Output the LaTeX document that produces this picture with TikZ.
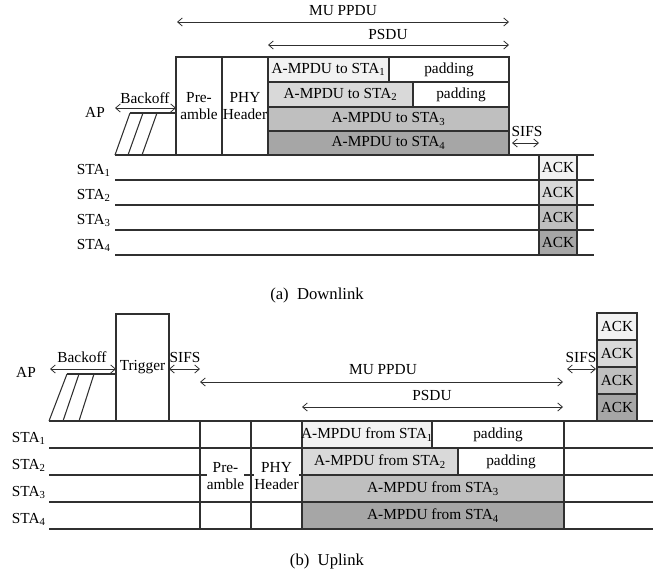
\documentclass[tikz,border=0pt]{standalone}
\usepackage{fontspec}
\setmainfont{Liberation Serif}
\usetikzlibrary{arrows.meta}
\definecolor{cA}{HTML}{F2F2F2}
\definecolor{cB}{HTML}{D9D9D9}
\definecolor{cC}{HTML}{BFBFBF}
\definecolor{cD}{HTML}{A6A6A6}
\definecolor{ln}{HTML}{303030}
\newcommand\mycell[7]{%
  \filldraw[cellst,fill=#6] (#2,#3) rectangle (#4,#5);
  \node[lbl] (#1) at ({(#2+#4)/2},{(#3+#5)/2}) {#7};}
\tikzset{
  cellst/.style={draw=ln, line width=0.8pt},
  tl/.style={draw=ln, line width=0.8pt},
  lbl/.style={font=\fontsize{11.5}{13}\selectfont, inner sep=0pt, align=center},
  stalbl/.style={font=\fontsize{11.5}{13}\selectfont, inner sep=0pt, anchor=base east},
  dimarr/.style={draw=ln, line width=0.6pt, {Straight Barb[length=3.5pt,width=6pt]}-{Straight Barb[length=3.5pt,width=6pt]}},
  captxt/.style={font=\fontsize{12.5}{14}\selectfont, inner sep=0pt}
}
\begin{document}
\begin{tikzpicture}[x=0.75pt,y=-0.75pt]
\useasboundingbox (0,0) rectangle (653,578);
% ================= (a) Downlink =================
\coordinate (muL) at (177,22); \coordinate (muR) at (509,22);
\draw[dimarr] (muL) -- (muR);
\node[lbl] (mulbl) at (343,11) {MU PPDU};
\coordinate (psL) at (268,45); \coordinate (psR) at (509,45);
\draw[dimarr] (psL) -- (psR);
\node[lbl] (pslbl) at (388,34) {PSDU};
\mycell{pre}{176}{57}{222}{155}{white}{Pre-\\amble}
\mycell{phy}{222}{57}{268}{155}{white}{PHY\\Header}
\mycell{d1}{268}{57}{389}{82}{cA}{A-MPDU to STA\textsubscript{1}}
\mycell{p1}{389}{57}{509}{82}{white}{padding}
\mycell{d2}{268}{82}{413}{107}{cB}{A-MPDU to STA\textsubscript{2}}
\mycell{p2}{413}{82}{509}{107}{white}{padding}
\mycell{d3}{268}{107}{509}{131}{cC}{A-MPDU to STA\textsubscript{3}}
\mycell{d4}{268}{131}{509}{155}{cD}{A-MPDU to STA\textsubscript{4}}
\node[lbl] (apa) at (95,112) {AP};
\coordinate (boL) at (115,108); \coordinate (boR) at (176,108);
\draw[dimarr] (boL) -- (boR);
\node[lbl] (bolbl) at (145,98) {Backoff};
\draw[tl] (130,113) -- (176,113);
\draw[tl] (130,113) -- (115,155);
\draw[tl] (143,113) -- (128,155);
\draw[tl] (157,113) -- (142,155);
\draw[tl] (115,155) -- (594,155);
\coordinate (sfL) at (512,143); \coordinate (sfR) at (539,143);
\draw[dimarr] (sfL) -- (sfR);
\node[lbl] (sflbl) at (527,131) {SIFS};
\foreach \i/\y in {1/180,2/205,3/230,4/255}{
  \draw[tl] (115,\y) -- (594,\y);
  \node[stalbl] (sa\i) at (111,\y-6) {STA\textsubscript{\i}};
}
\mycell{ackA1}{539}{155}{577}{180}{cA}{ACK}
\mycell{ackA2}{539}{180}{577}{205}{cB}{ACK}
\mycell{ackA3}{539}{205}{577}{230}{cC}{ACK}
\mycell{ackA4}{539}{230}{577}{255}{cD}{ACK}
\node[captxt] (capa) at (317,295) {(a)~~Downlink};
% ================= (b) Uplink =================
\node[lbl] (apb) at (26,372) {AP};
\coordinate (bbL) at (50,369); \coordinate (bbR) at (116,369);
\draw[dimarr] (bbL) -- (bbR);
\node[lbl] (bblbl) at (82,357) {Backoff};
\draw[tl] (67,374) -- (116,374);
\draw[tl] (67,374) -- (49,421);
\draw[tl] (79,374) -- (63,421);
\draw[tl] (94,374) -- (79,421);
\mycell{trig}{116}{314}{169}{421}{white}{Trigger}
\coordinate (s1L) at (169,369); \coordinate (s1R) at (200,369);
\draw[dimarr] (s1L) -- (s1R);
\node[lbl] (s1lbl) at (185,357) {SIFS};
\coordinate (mbL) at (200,382); \coordinate (mbR) at (563,382);
\draw[dimarr] (mbL) -- (mbR);
\node[lbl] (mblbl) at (383,370) {MU PPDU};
\coordinate (pbL) at (302,407); \coordinate (pbR) at (563,407);
\draw[dimarr] (pbL) -- (pbR);
\node[lbl] (pblbl) at (432,395) {PSDU};
\coordinate (s2L) at (567,369); \coordinate (s2R) at (596,369);
\draw[dimarr] (s2L) -- (s2R);
\node[lbl] (s2lbl) at (581,357) {SIFS};
\mycell{ackB1}{597}{313}{637}{340}{cA}{ACK}
\mycell{ackB2}{597}{340}{637}{367}{cB}{ACK}
\mycell{ackB3}{597}{367}{637}{394}{cC}{ACK}
\mycell{ackB4}{597}{394}{637}{421}{cD}{ACK}
\draw[tl] (49,421) -- (653,421);
\foreach \i/\y in {1/448,2/475,3/502,4/529}{
  \draw[tl] (49,\y) -- (653,\y);
  \node[stalbl] (sb\i) at (46,\y-6) {STA\textsubscript{\i}};
}
\draw[tl] (200,421) -- (200,529);
\draw[tl] (251,421) -- (251,529);
\draw[tl] (302,421) -- (302,529);
\node[lbl, fill=white, inner xsep=0pt, inner ysep=1pt] (preb) at (225.5,476) {Pre-\\amble};
\node[lbl, fill=white, inner xsep=0pt, inner ysep=1pt] (phyb) at (276.5,476) {PHY\\Header};
\mycell{u1}{302}{421}{432}{448}{cA}{A-MPDU from STA\textsubscript{1}}
\mycell{q1}{432}{421}{564}{448}{white}{padding}
\mycell{u2}{302}{448}{458}{475}{cB}{A-MPDU from STA\textsubscript{2}}
\mycell{q2}{458}{448}{564}{475}{white}{padding}
\mycell{u3}{302}{475}{564}{502}{cC}{A-MPDU from STA\textsubscript{3}}
\mycell{u4}{302}{502}{564}{529}{cD}{A-MPDU from STA\textsubscript{4}}
\node[captxt] (capb) at (327,561) {(b)~~Uplink};
\end{tikzpicture}
\end{document}
